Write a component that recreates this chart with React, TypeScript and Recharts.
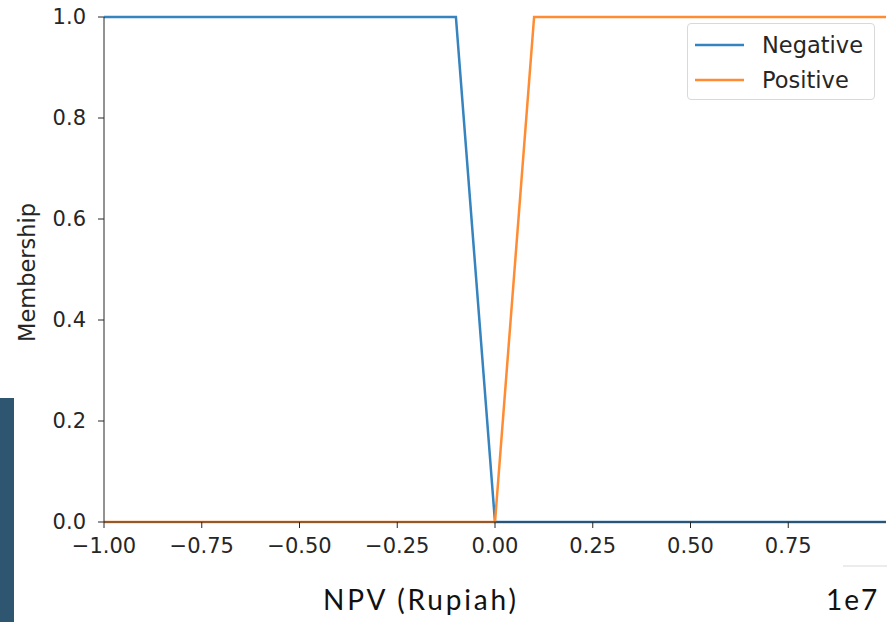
import { LineChart, Line, XAxis, YAxis, Legend } from 'recharts';

// membership functions of NPV (in units of 1e7 Rupiah)
const npvPoints = [-1, -0.1, 0, 0.1, 1];
const negativeMembership = [1, 1, 0, 0, 0];
const positiveMembership = [0, 0, 0, 1, 1];

const xTicks = [-1, -0.75, -0.5, -0.25, 0, 0.25, 0.5, 0.75];
const yTicks = [0, 0.2, 0.4, 0.6, 0.8, 1];

const data = npvPoints.map((x, i) => ({
  npv: x,
  negative: negativeMembership[i],
  positive: positiveMembership[i],
}));

const BLUE = '#3583bf';
const ORANGE = '#ff8c33';
const FONT = '"DejaVu Sans", sans-serif';
const TICK = { fill: '#262626', fontSize: 21, fontFamily: FONT };

const fmtX = (v: number) => (v < 0 ? '\u2212' + Math.abs(v).toFixed(2) : v.toFixed(2));
const fmtY = (v: number) => v.toFixed(1);

const renderLegend = (props: any) => {
  const items = props.payload || [];
  return (
    <div
      style={{
        boxSizing: 'border-box',
        width: 188,
        height: 77,
        border: '1px solid #d9d9d9',
        borderRadius: 4,
        background: '#fff',
        paddingTop: 3,
        fontFamily: FONT,
        fontSize: 22.5,
        color: '#262626',
      }}
    >
      {items.map((it: any) => (
        <div key={it.value} style={{ height: 35, display: 'flex', alignItems: 'center' }}>
          <svg width={56} height={6} style={{ marginLeft: 6 }}>
            <line x1={1} y1={3} x2={50} y2={3} stroke={it.color} strokeWidth={2.5} />
          </svg>
          <span style={{ marginLeft: 12 }}>{it.value}</span>
        </div>
      ))}
    </div>
  );
};

const MembershipLabel = (props: any) => {
  const vb = props.viewBox || { x: 0, y: 0, width: 0, height: 0 };
  const cx = vb.x + 27;
  const cy = vb.y + vb.height / 2 + 3;
  return (
    <text
      x={cx}
      y={cy}
      transform={`rotate(-90, ${cx}, ${cy})`}
      textAnchor="middle"
      dominantBaseline="central"
      fill="#262626"
      fontSize={22.5}
      fontFamily={FONT}
    >
      Membership
    </text>
  );
};

const captionStyle = {
  position: 'absolute' as const,
  top: 585,
  fontFamily: 'Lato, sans-serif',
  fontSize: 28,
  lineHeight: '28px',
  color: '#111',
  whiteSpace: 'nowrap' as const,
};

export default function App() {
  return (
    <div
      style={{
        position: 'absolute',
        left: 0,
        top: 0,
        width: 887,
        height: 622,
        overflow: 'hidden',
        background: '#fff',
      }}
    >
      <LineChart width={887} height={622} data={data} margin={{ top: 17, right: 1, left: 0, bottom: 0 }}>
        <XAxis
          dataKey="npv"
          type="number"
          domain={[-1, 1]}
          ticks={xTicks}
          tickFormatter={fmtX}
          height={100}
          stroke="#262626"
          tick={TICK}
          tickSize={6}
          tickMargin={10}
          interval={0}
        />
        <YAxis
          type="number"
          domain={[0, 1]}
          ticks={yTicks}
          tickFormatter={fmtY}
          width={104}
          stroke="#262626"
          tick={TICK}
          tickSize={6}
          tickMargin={12}
          interval={0}
          label={<MembershipLabel />}
        />
        <Legend
          layout="vertical"
          align="center"
          verticalAlign="middle"
          content={renderLegend}
          wrapperStyle={{ position: 'absolute', left: 687, top: 23, width: 188, height: 77 }}
        />
        <Line
          type="linear"
          dataKey="negative"
          name="Negative"
          stroke={BLUE}
          strokeWidth={2.5}
          dot={false}
          isAnimationActive={false}
        />
        <Line
          type="linear"
          dataKey="positive"
          name="Positive"
          stroke={ORANGE}
          strokeWidth={2.5}
          dot={false}
          isAnimationActive={false}
        />
      </LineChart>
      <div style={{ position: 'absolute', left: 0, top: 398, width: 14, height: 224, background: '#2f5670' }} />
      <div style={{ position: 'absolute', left: 843, top: 565, width: 44, height: 2, background: '#ececec' }} />
      <div style={{ ...captionStyle, left: 323, letterSpacing: 2.8 }}>NPV (Rupiah)</div>
      <div style={{ ...captionStyle, left: 826, letterSpacing: 2 }}>1e7</div>
    </div>
  );
}
